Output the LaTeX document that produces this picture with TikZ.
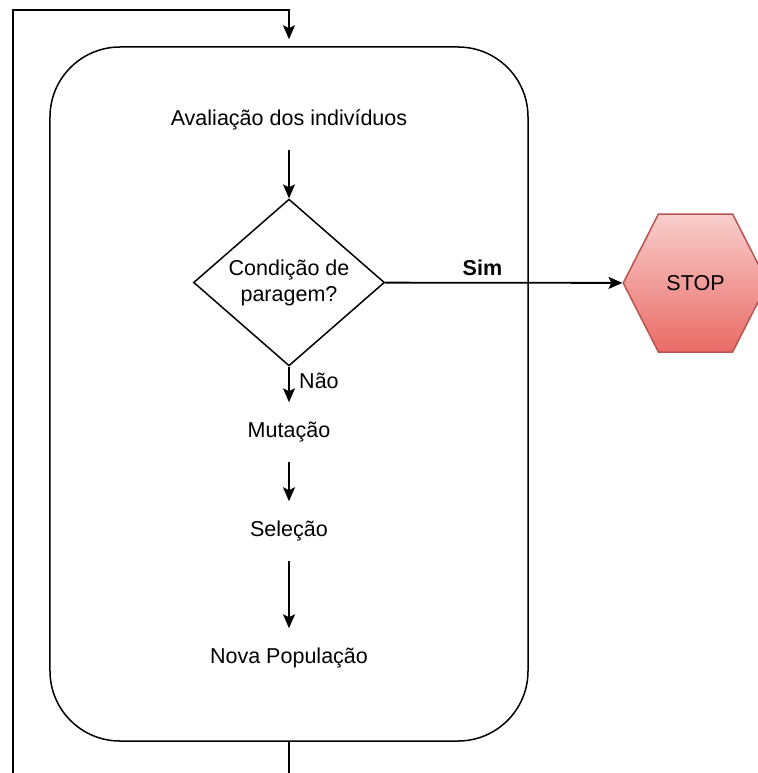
\documentclass[tikz,border=0pt]{standalone}
\usepackage{fontspec}
\setmainfont{Liberation Sans}
\usetikzlibrary{
  shapes.geometric,
  shapes.symbols,
  arrows.meta
}
\definecolor{stoptop}{HTML}{F8CECC}
\definecolor{stopbottom}{HTML}{EA6B66}
\definecolor{stopline}{HTML}{B85450}

\begin{document}
\begin{tikzpicture}[
  x=1bp, y=-1bp,
  font=\fontsize{21.6}{26}\selectfont,
  line width=1.5bp,
  flow/.style={-{Stealth[length=14bp,width=12bp,inset=3bp]}, line width=1.8bp},
  stage/.style={minimum height=58bp, inner sep=0pt},
  cond/.style={diamond, draw, align=center, inner sep=0pt,
    minimum width=191bp, minimum height=163bp},
  stopsign/.style={signal, signal to=east and west, signal pointer angle=126,
    draw=stopline, top color=stoptop, bottom color=stopbottom,
    minimum height=138bp, inner xsep=8bp, inner ysep=0pt}
  ]
  \useasboundingbox (0,0) rectangle (758,773);
  \node[draw, rounded corners=70bp, minimum width=478bp, minimum height=694bp] (loop) at (289,394) {};
  \node[stage] (aval) at (289,120) {Avaliação dos indivíduos};
  \node[cond] (test) at (289,282.5) {Condição de\\paragem?};
  \node[stopsign] (stop) at (695.5,283) {STOP};
  \node[stage] (mut) at (289,432) {Mutação};
  \node[stage] (sel) at (289,531) {Seleção};
  \node[stage] (nova) at (289,658) {Nova População};
  \coordinate (exitbottom) at (289,773);
  \coordinate (exitleft) at (13,773);
  \coordinate (entrytop) at (289,10);

  \draw[flow] (aval) -- (test);
  \draw[flow] (test) -- node[pos=0.41, above=3bp, font=\fontsize{21.6}{26}\selectfont\bfseries] (simlbl) {Sim} (stop);
  \draw[flow] (test) -- node[pos=0.4, right=6bp] (naolbl) {Não} (mut);
  \draw[flow] (mut) -- (sel);
  \draw[flow] (sel) -- (nova);
  % loop back to the top
  \draw (loop.south) -- (exitbottom);
  \draw[flow, shorten >=7bp] (exitleft) |- (entrytop) -- (loop.north);
\end{tikzpicture}
\end{document}
